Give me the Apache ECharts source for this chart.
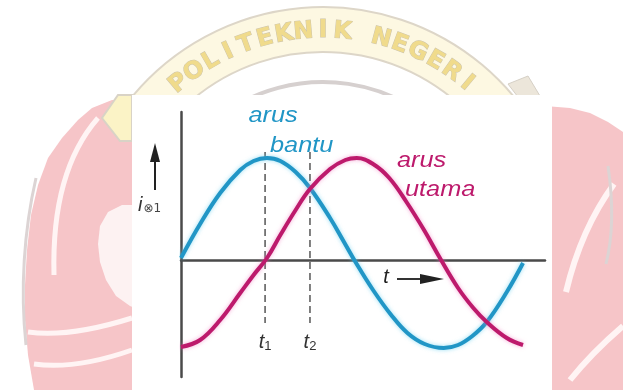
<!DOCTYPE html>
<html>
<head>
<meta charset="utf-8">
<script src="https://cdn.jsdelivr.net/npm/echarts@6/dist/echarts.min.js"></script>
<style>
  html, body { margin: 0; padding: 0; background: #fff; }
  #chart { width: 623px; height: 390px; }
</style>
</head>
<body>
<div id="chart"></div>
<script>
// Time axis expressed as phase angle (degrees) over one full period.
const bantuPhase  = [0, 20, 41, 62, 76, 90, 104, 120, 135, 156, 170, 182, 201, 220, 237, 255, 275, 290, 305, 320, 341, 358];
const bantuValues = [0.02, 0.36, 0.67, 0.90, 0.99, 1.02, 0.99, 0.88, 0.72, 0.42, 0.19, -0.01, -0.30, -0.55, -0.73, -0.84, -0.88, -0.85, -0.76, -0.62, -0.32, -0.03];

const utamaPhase  = [0, 20, 41, 62, 76, 90, 104, 120, 135, 156, 172, 184, 201, 218, 236, 255, 271, 290, 306, 320, 341, 358];
const utamaValues = [-0.87, -0.80, -0.60, -0.33, -0.15, 0.02, 0.25, 0.50, 0.71, 0.91, 1.00, 1.02, 0.96, 0.82, 0.58, 0.29, 0.02, -0.28, -0.48, -0.62, -0.78, -0.85];

// Instants t1 and t2 marked with dashed guides
const markerTimes = [88, 135];
const markerSubs  = ['1', '2'];
const markerTop = 1.08;
const markerBottom = -0.63;

const seriesNames = ['arus bantu', 'arus utama'];
const bannerText = 'POLITEKNIK NEGERI';

const BLUE = '#2196c6';
const MAGENTA = '#bd1a6c';
const PINK = '#f6c5c8';
const STRIPE = '#fff4f4';
const FONT = '"Liberation Sans", "DejaVu Sans", sans-serif';

const pairs = (xs, ys) => xs.map((x, i) => [x, ys[i]]);

// ---- emblem watermark behind the figure ----
const wm = [];
const cx = 323, cy = 255;
const deg = Math.PI / 180;
const curve = (x1, y1, cpx1, cpy1, cpx2, cpy2, x2, y2, stroke, lineWidth) => ({
  type: 'bezierCurve', z: -19, shape: { x1, y1, cpx1, cpy1, cpx2, cpy2, x2, y2 },
  style: { stroke, lineWidth, fill: null }
});

wm.push({ type: 'polygon', z: -20,
  shape: { points: [[140,100],[112,100],[92,108],[78,120],[62,138],[48,158],[38,185],[31,215],[27,250],[25,285],[25,320],[28,355],[34,390],[140,390]] },
  style: { fill: PINK } });
wm.push({ type: 'polygon', z: -19,
  shape: { points: [[140,205],[122,205],[108,212],[100,226],[98,244],[100,262],[106,280],[116,296],[130,306],[140,310]] },
  style: { fill: '#fdf2f2' } });
wm.push(curve(98, 118, 70, 150, 52, 200, 54, 275, STRIPE, 5));
wm.push(curve(36, 178, 24, 230, 20, 290, 26, 345, '#dcd4d4', 3));
wm.push(curve(28, 332, 58, 336, 94, 330, 132, 318, STRIPE, 5));
wm.push(curve(34, 364, 64, 368, 98, 362, 132, 350, STRIPE, 5));

wm.push({ type: 'polygon', z: -20,
  shape: { points: [[545,106],[570,108],[590,113],[608,122],[623,132],[623,390],[545,390]] },
  style: { fill: PINK } });
wm.push(curve(614, 184, 592, 214, 576, 250, 566, 292, STRIPE, 6));
wm.push(curve(608, 166, 613, 200, 613, 236, 606, 264, '#dcd4d4', 3));
wm.push(curve(623, 326, 602, 344, 586, 360, 570, 380, STRIPE, 6));

// arched banner
wm.push({ type: 'sector', z: -18, shape: { cx, cy, r: 248, r0: 203, startAngle: -140 * deg, endAngle: -40 * deg, clockwise: true },
  style: { fill: '#fdf8e2', stroke: '#ddd6c8', lineWidth: 2 } });
wm.push({ type: 'arc', z: -18, shape: { cx, cy, r: 173, startAngle: -150 * deg, endAngle: -30 * deg, clockwise: true },
  style: { stroke: '#d6d0cf', lineWidth: 4, fill: null } });
wm.push({ type: 'polygon', z: -18, shape: { points: [[132, 95], [118, 95], [102, 118], [120, 141], [132, 141]] },
  style: { fill: '#fbf3c6', stroke: '#d9d3c6', lineWidth: 2 } });
wm.push({ type: 'polygon', z: -18, shape: { points: [[508, 84], [528, 76], [540, 96], [518, 97]] },
  style: { fill: '#ece6da', stroke: '#d6d0c6', lineWidth: 1 } });
Array.from(bannerText).forEach((ch, k) => {
  if (ch === ' ') return;
  const a = (-40 + 5 * k) * deg;
  wm.push({
    type: 'text', z: -17,
    x: cx + 224 * Math.sin(a), y: cy - 224 * Math.cos(a), rotation: -a,
    style: { text: ch, fill: '#f0db8c', stroke: '#cdc4ac', lineWidth: 1,
      font: 'bold 24px "DejaVu Sans", sans-serif', align: 'center', verticalAlign: 'middle' }
  });
});

// white figure panel
wm.push({ type: 'rect', z: -10, shape: { x: 132, y: 95, width: 420, height: 295 }, style: { fill: '#ffffff' } });

// ---- annotations ----
const label = (text, x, y, color, align) => ({
  type: 'text', x, y, scaleX: 1.15,
  style: { text, fill: color, font: 'italic 22px ' + FONT, align, verticalAlign: 'middle' }
});
const notes = [
  label('arus', 273, 116, BLUE, 'center'),
  label('bantu', 270, 146, BLUE, 'left'),
  label('arus', 397, 161, MAGENTA, 'left'),
  label('utama', 405, 190, MAGENTA, 'left'),
  // vertical axis title with arrow
  { type: 'line', shape: { x1: 155, y1: 190, x2: 155, y2: 158 }, style: { stroke: '#222', lineWidth: 2 } },
  { type: 'polygon', shape: { points: [[155, 143], [150, 162], [160, 162]] }, style: { fill: '#222' } },
  { type: 'text', x: 138, y: 205,
    style: { text: '{i|i}{s|⊗1}', verticalAlign: 'middle',
      rich: { i: { font: 'italic 20px ' + FONT, fill: '#333' }, s: { font: '12px "DejaVu Sans", sans-serif', fill: '#444', padding: [8, 0, 0, 1] } } } },
  // time arrow
  { type: 'text', x: 386, y: 277,
    style: { text: 't', fill: '#222', font: 'italic 20px ' + FONT, align: 'center', verticalAlign: 'middle' } },
  { type: 'line', shape: { x1: 397, y1: 279, x2: 424, y2: 279 }, style: { stroke: '#333', lineWidth: 2 } },
  { type: 'polygon', shape: { points: [[444, 279], [420, 274], [420, 284]] }, style: { fill: '#222' } }
];

const markerSeries = markerTimes.map((t, i) => ({
  type: 'line', name: 't' + markerSubs[i], z: 1,
  symbol: 'circle', symbolSize: 0, silent: true,
  lineStyle: { color: '#555', width: 1.5, type: [7, 4] },
  data: [
    { value: [t, markerTop], label: { show: false } },
    { value: [t, markerBottom], label: {
        show: true, position: 'bottom', distance: 8,
        formatter: '{t|t}{s|' + markerSubs[i] + '}',
        rich: { t: { fontStyle: 'italic', fontSize: 20, fontFamily: FONT, color: '#333' },
                s: { fontSize: 13, fontFamily: FONT, color: '#333', padding: [9, 0, 0, 0] } } } }
  ]
}));

const chart = echarts.init(document.getElementById('chart'), null, { renderer: 'canvas' });
chart.setOption({
  animation: false,
  backgroundColor: '#ffffff',
  grid: { left: 181, top: 112, width: 364, height: 265 },
  xAxis: {
    type: 'value', min: 0, max: 381,
    axisLine: { show: true, onZero: true, lineStyle: { color: '#4a4a4a', width: 2.5 } },
    axisTick: { show: false }, axisLabel: { show: false }, splitLine: { show: false }
  },
  yAxis: {
    type: 'value', min: -1.17, max: 1.48,
    axisLine: { show: true, lineStyle: { color: '#4a4a4a', width: 2.5 } },
    axisTick: { show: false }, axisLabel: { show: false }, splitLine: { show: false }
  },
  graphic: wm.concat(notes),
  series: [
    ...markerSeries,
    { type: 'line', name: seriesNames[0], data: pairs(bantuPhase, bantuValues), smooth: 0.4, showSymbol: false,
      lineStyle: { color: BLUE, width: 4, shadowColor: 'rgba(110,210,240,0.7)', shadowBlur: 4 } },
    { type: 'line', name: seriesNames[1], data: pairs(utamaPhase, utamaValues), smooth: 0.4, showSymbol: false,
      lineStyle: { color: MAGENTA, width: 4, shadowColor: 'rgba(240,120,190,0.6)', shadowBlur: 4 } }
  ]
});
</script>
</body>
</html>
